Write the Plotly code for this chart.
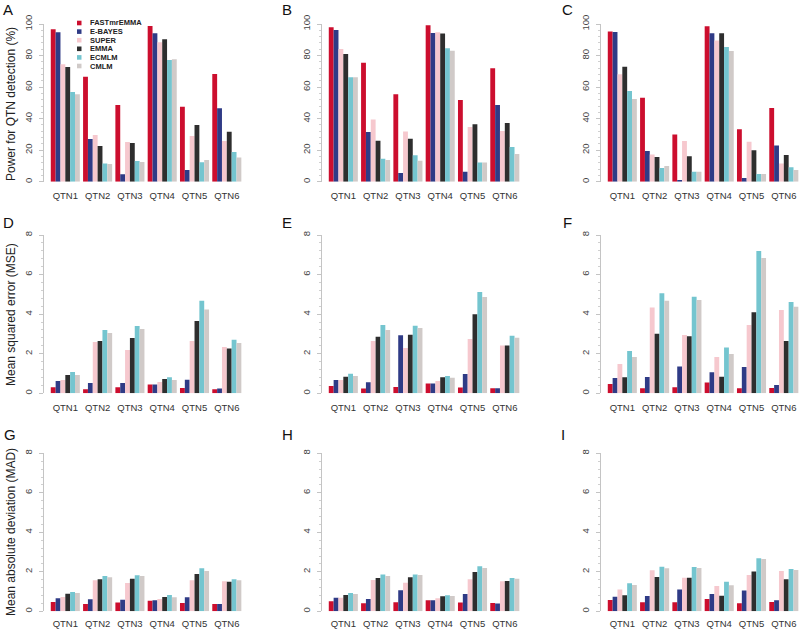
import plotly.graph_objects as go

W, H = 800, 631

categories = ["QTN1", "QTN2", "QTN3", "QTN4", "QTN5", "QTN6"]
methods = ["FASTmrEMMA", "E-BAYES", "SUPER", "EMMA", "ECMLM", "CMLM"]
colors = ["#cc0e2e", "#2f3b86", "#f6c8ce", "#2e2e2e", "#74c5cf", "#d0cac8"]

# rows: methods (FASTmrEMMA, E-BAYES, SUPER, EMMA, ECMLM, CMLM); cols: QTN1..QTN6
power_A = [
    [96.6, 66.6, 48.6, 98.7, 47.6, 68.3],
    [94.7, 27.1, 4.7, 94.1, 7.4, 46.5],
    [74.4, 29.6, 25.2, 88.4, 29.0, 25.8],
    [72.7, 22.6, 24.5, 90.3, 35.9, 31.7],
    [56.9, 11.6, 13.1, 77.2, 12.3, 18.8],
    [55.4, 11.2, 12.5, 77.6, 13.7, 15.4],
]
power_B = [
    [97.9, 75.5, 55.4, 99.2, 51.8, 71.9],
    [96.2, 31.5, 5.5, 94.3, 6.3, 48.6],
    [84.1, 39.5, 31.9, 94.7, 34.7, 32.1],
    [81.0, 26.0, 27.3, 93.9, 36.4, 37.2],
    [66.2, 14.6, 16.7, 84.6, 12.1, 22.0],
    [66.2, 13.7, 13.3, 83.1, 12.1, 17.5],
]
power_C = [
    [95.3, 53.3, 30.0, 98.5, 33.2, 46.7],
    [94.9, 19.5, 1.1, 94.1, 2.3, 23.0],
    [68.1, 17.3, 25.8, 89.6, 25.4, 11.6],
    [72.9, 15.6, 16.1, 94.1, 19.9, 16.9],
    [57.5, 8.7, 6.3, 85.4, 4.9, 9.1],
    [52.4, 9.9, 6.3, 82.9, 4.9, 7.4],
]
mse_D = [
    [0.30, 0.20, 0.30, 0.45, 0.27, 0.20],
    [0.62, 0.52, 0.52, 0.45, 0.69, 0.24],
    [0.67, 2.59, 2.19, 0.57, 2.64, 2.34],
    [0.93, 2.64, 2.79, 0.72, 3.65, 2.27],
    [1.08, 3.20, 3.40, 0.81, 4.68, 2.71],
    [0.93, 3.05, 3.25, 0.67, 4.24, 2.54],
]
mse_E = [
    [0.37, 0.24, 0.32, 0.49, 0.29, 0.25],
    [0.67, 0.56, 2.93, 0.49, 0.98, 0.25],
    [0.67, 2.64, 2.29, 0.62, 2.74, 2.41],
    [0.84, 2.86, 2.96, 0.81, 3.99, 2.41],
    [0.99, 3.45, 3.42, 0.88, 5.12, 2.91],
    [0.88, 3.20, 3.30, 0.79, 4.87, 2.81],
]
mse_F = [
    [0.47, 0.25, 0.30, 0.54, 0.25, 0.27],
    [0.77, 0.82, 1.35, 1.06, 1.33, 0.42],
    [1.48, 4.34, 2.95, 1.84, 3.45, 4.21],
    [0.81, 3.01, 2.88, 0.84, 4.09, 2.64],
    [2.14, 5.05, 4.88, 2.32, 7.19, 4.61],
    [1.84, 4.68, 4.71, 1.99, 6.84, 4.38],
]
mad_G = [
    [0.47, 0.37, 0.44, 0.54, 0.42, 0.37],
    [0.66, 0.61, 0.59, 0.56, 0.71, 0.37],
    [0.73, 1.57, 1.43, 0.62, 1.57, 1.52],
    [0.89, 1.62, 1.65, 0.73, 1.89, 1.49],
    [0.98, 1.79, 1.82, 0.83, 2.18, 1.62],
    [0.93, 1.72, 1.79, 0.71, 2.04, 1.57],
]
mad_H = [
    [0.51, 0.41, 0.46, 0.56, 0.44, 0.42],
    [0.68, 0.62, 1.06, 0.56, 0.88, 0.39],
    [0.68, 1.59, 1.45, 0.66, 1.62, 1.52],
    [0.83, 1.69, 1.72, 0.76, 1.99, 1.54],
    [0.93, 1.86, 1.86, 0.81, 2.28, 1.69],
    [0.88, 1.79, 1.84, 0.78, 2.19, 1.65],
]
mad_I = [
    [0.57, 0.46, 0.46, 0.62, 0.41, 0.47],
    [0.74, 0.78, 1.11, 0.88, 1.05, 0.56],
    [1.11, 2.08, 1.70, 1.28, 1.84, 2.04],
    [0.81, 1.74, 1.70, 0.79, 2.01, 1.62],
    [1.42, 2.26, 2.24, 1.49, 2.69, 2.14],
    [1.33, 2.18, 2.19, 1.32, 2.65, 2.09],
]

panel_letters = ["A", "B", "C", "D", "E", "F", "G", "H", "I"]
panel_data = [power_A, power_B, power_C, mse_D, mse_E, mse_F, mad_G, mad_H, mad_I]
row_ymax = [100, 8, 8]
row_dtick = [20, 2, 2]
row_minor = [4, 0.4, 0.4]
row_titles = ["Power for QTN detection (%)", "Mean squared error (MSE)",
              "Mean absolute deviation (MAD)"]


def px(x):
    return x / W


def py(y):
    return 1 - y / H


col_axis_px = [44, 322, 601]
group_px = 32.3
row_px = [(181.7, 24.0), (393.3, 235.0), (611.3, 453.3)]  # (zero, max)
row_label_standoff = [7, 7, 5]
letter_pos = [(8, 10), (287, 10), (567, 10),
              (8, 223), (287, 223), (567, 223),
              (10, 435), (287, 435), (563, 435)]
title_y = [104, 315, 532]

fig = go.Figure()
layout = dict(
    width=W, height=H, autosize=False,
    margin=dict(l=0, r=0, t=0, b=0, autoexpand=False),
    paper_bgcolor="white", plot_bgcolor="white",
    barmode="group", bargap=0.1, bargroupgap=0,
    showlegend=False,
    font=dict(family="Liberation Sans, Arial, sans-serif", color="#333"),
)
annotations = []
shapes = []

for p in range(9):
    r, c = divmod(p, 3)
    k = p + 1
    xa = "x" if k == 1 else f"x{k}"
    ya = "y" if k == 1 else f"y{k}"
    for m, name in enumerate(methods):
        fig.add_trace(go.Bar(
            x=categories, y=panel_data[p][m], name=name,
            marker=dict(color=colors[m], line=dict(width=0)),
            xaxis=xa, yaxis=ya, offsetgroup=str(m), cliponaxis=True,
        ))
    x0 = col_axis_px[c]
    x1 = min(x0 + (5.6 + 0.66) * group_px, W)
    xr_end = (x1 - x0) / group_px - 0.66
    zero_px, max_px = row_px[r]
    layout[f"xaxis{k}"] = dict(
        domain=[px(x0), px(x1)], anchor=ya, type="category",
        categoryorder="array", categoryarray=categories,
        range=[-0.66, xr_end], showline=False, showgrid=False,
        zeroline=False, ticks="", tickfont=dict(size=9.5, color="#333"),
        ticklabelstandoff=row_label_standoff[r], automargin=False,
    )
    layout[f"yaxis{k}"] = dict(
        domain=[py(zero_px), py(max_px)], anchor=xa,
        range=[0, row_ymax[r]], dtick=row_dtick[r], tick0=0,
        showline=True, linecolor="#c4c4c4", linewidth=1,
        ticks="outside", ticklen=4, tickcolor="#c4c4c4", tickwidth=1,
        minor=dict(ticks="outside", ticklen=2, dtick=row_minor[r],
                   tickcolor="#d0d0d0", tickwidth=1, showgrid=False),
        tickangle=-90, tickfont=dict(size=9.5, color="#444"),
        ticklabelstandoff=3,
        showgrid=False, zeroline=False, automargin=False,
    )
    lx, ly = letter_pos[p]
    annotations.append(dict(
        text=panel_letters[p], x=px(lx), y=py(ly), xref="paper", yref="paper",
        showarrow=False, font=dict(size=15, color="#111"),
        xanchor="center", yanchor="middle",
    ))

for r in range(3):
    annotations.append(dict(
        text=row_titles[r], x=px(11), y=py(title_y[r]), xref="paper",
        yref="paper", showarrow=False, textangle=-90,
        font=dict(size=12, color="#222"), xanchor="center", yanchor="middle",
    ))

# legend in panel A
leg_y0, leg_dy = 23.0, 8.6
for m, name in enumerate(methods):
    yc = leg_y0 + m * leg_dy
    shapes.append(dict(
        type="rect", xref="paper", yref="paper",
        x0=px(77), x1=px(81.5), y0=py(yc + 2.3), y1=py(yc - 2.3),
        fillcolor=colors[m], line=dict(width=0),
    ))
    annotations.append(dict(
        text=f"<b>{name}</b>", x=px(88), y=py(yc), xref="paper", yref="paper",
        showarrow=False, xanchor="left", yanchor="middle",
        font=dict(size=7.5, color="#222"),
    ))

layout["annotations"] = annotations
layout["shapes"] = shapes
fig.update_layout(**layout)
fig.write_html("out.html",
               config={"displayModeBar": False, "staticPlot": True},
               post_script="document.body.style.margin='0';"
                           "document.body.style.overflow='hidden';")
